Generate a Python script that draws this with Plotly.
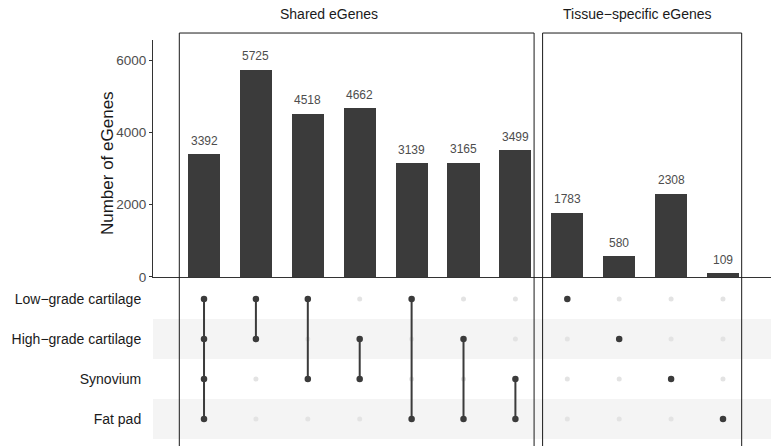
import plotly.graph_objects as go

# Tissues (matrix rows, top to bottom) and intersection sizes
sets = ["Low−grade cartilage", "High−grade cartilage", "Synovium", "Fat pad"]
counts = [3392, 5725, 4518, 4662, 3139, 3165, 3499, 1783, 580, 2308, 109]
combos = [
    ["Low−grade cartilage", "High−grade cartilage", "Synovium", "Fat pad"],
    ["Low−grade cartilage", "High−grade cartilage"],
    ["Low−grade cartilage", "Synovium"],
    ["High−grade cartilage", "Synovium"],
    ["Low−grade cartilage", "Fat pad"],
    ["High−grade cartilage", "Fat pad"],
    ["Synovium", "Fat pad"],
    ["Low−grade cartilage"],
    ["High−grade cartilage"],
    ["Synovium"],
    ["Fat pad"],
]
group_names = ["Shared eGenes", "Tissue−specific eGenes"]
group_members = [[0, 1, 2, 3, 4, 5, 6], [7, 8, 9, 10]]
y_ticks = [0, 2000, 4000, 6000]

DARK = "#3b3b3b"
LIGHT = "#e3e3e3"
FONT = "Liberation Sans, Arial, Helvetica, sans-serif"

xs = list(range(len(counts)))
row_y = {s: len(sets) - 1 - i for i, s in enumerate(sets)}

fig = go.Figure()

# Intersection size bars
fig.add_trace(go.Bar(
    x=xs, y=counts, width=0.617, marker=dict(color=DARK, line=dict(width=0)),
    xaxis="x", yaxis="y", hoverinfo="x+y",
))

# Matrix: inactive dots
in_x, in_y = [], []
for i, combo in enumerate(combos):
    for s in sets:
        if s not in combo:
            in_x.append(i)
            in_y.append(row_y[s])
fig.add_trace(go.Scatter(
    x=in_x, y=in_y, mode="markers", xaxis="x", yaxis="y2",
    marker=dict(color=LIGHT, size=5), hoverinfo="skip",
))

# Matrix: connecting segments
for i, combo in enumerate(combos):
    ys = [row_y[s] for s in combo]
    if len(ys) > 1:
        fig.add_trace(go.Scatter(
            x=[i, i], y=[min(ys), max(ys)], mode="lines", xaxis="x", yaxis="y2",
            line=dict(color=DARK, width=2), hoverinfo="skip",
        ))

# Matrix: active dots
ac_x, ac_y = [], []
for i, combo in enumerate(combos):
    for s in combo:
        ac_x.append(i)
        ac_y.append(row_y[s])
fig.add_trace(go.Scatter(
    x=ac_x, y=ac_y, mode="markers", xaxis="x", yaxis="y2",
    marker=dict(color=DARK, size=6.5), hoverinfo="skip",
))

annotations = []
# Count labels above bars
for i, c in enumerate(counts):
    annotations.append(dict(
        x=i, y=c, xref="x", yref="y", text=str(c), showarrow=False,
        yanchor="middle", yshift=13.5, font=dict(size=12, color="#4d4d4d", family=FONT),
    ))

# Group boxes and headers
box_pad_left, box_pad_right = 0.476, 0.36
title_x = [2.41, 8.36]
shapes = []
for gi, members in enumerate(group_members):
    shapes.append(dict(
        type="rect", xref="x", yref="paper",
        x0=min(members) - box_pad_left, x1=max(members) + box_pad_right,
        y0=-0.1, y1=1.0172, line=dict(color="#1a1a1a", width=1), layer="above",
    ))
    annotations.append(dict(
        x=title_x[gi], y=1.064, xref="x", yref="paper", text=group_names[gi],
        showarrow=False, xanchor="center", yanchor="middle",
        font=dict(size=14, color="#1a1a1a", family=FONT),
    ))

# Alternating row shading in the matrix
for s in sets[1::2]:
    r = row_y[s]
    shapes.append(dict(
        type="rect", xref="paper", yref="y2", x0=0, x1=1, y0=r - 0.5, y1=r + 0.5,
        fillcolor="#f4f4f4", line=dict(width=0), layer="below",
    ))

# Y axis title
annotations.append(dict(
    x=-0.0744, y=0.697, xref="paper", yref="paper", text="Number of eGenes",
    textangle=-90, showarrow=False, xanchor="center", yanchor="middle",
    font=dict(size=17, color="#1a1a1a", family=FONT),
))

fig.update_layout(
    template="none",
    width=771, height=446,
    margin=dict(l=153, r=0, t=40, b=0, pad=0),
    paper_bgcolor="white", plot_bgcolor="rgba(0,0,0,0)",
    showlegend=False, bargap=0,
    font=dict(family=FONT),
    xaxis=dict(
        range=[-0.983, 10.925], anchor="y", showticklabels=False, ticks="",
        showgrid=False, zeroline=False, showline=True, linecolor="#333333", linewidth=1,
        automargin=False,
    ),
    yaxis=dict(
        domain=[0.4163, 1.0], range=[0, 6553], anchor="x",
        tickvals=y_ticks, ticktext=[str(v) for v in y_ticks],
        ticks="outside", ticklen=3, tickcolor="#333333", tickwidth=1,
        tickfont=dict(size=13.5, color="#4d4d4d", family=FONT),
        showgrid=False, zeroline=False, showline=True, linecolor="#333333", linewidth=1,
        automargin=False,
    ),
    yaxis2=dict(
        domain=[0.0, 0.411], range=[-0.675, 3.5], anchor="x",
        tickvals=[row_y[s] for s in sets], ticktext=sets,
        ticks="outside", ticklen=8, tickcolor="rgba(0,0,0,0)",
        tickfont=dict(size=14, color="#1a1a1a", family=FONT),
        showgrid=False, zeroline=False, showline=False, automargin=False,
    ),
    shapes=shapes, annotations=annotations,
)

fig.write_html("out.html")
